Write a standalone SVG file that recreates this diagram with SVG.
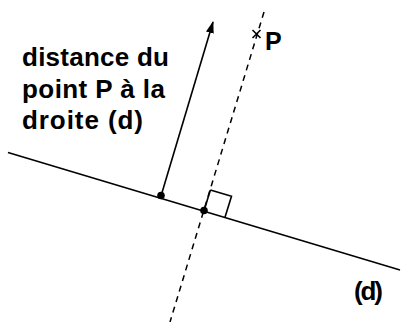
<svg xmlns="http://www.w3.org/2000/svg" width="402" height="322" viewBox="0 0 402 322">
<defs>
<style>
.lbl{font-family:"Liberation Sans",Arial,sans-serif;font-weight:bold;fill:#000}
.ln{stroke:#000;stroke-width:1.6;fill:none}
.dash{stroke:#000;stroke-width:1.5;fill:none;stroke-dasharray:6 5}
</style>
<marker id="ah" viewBox="0 0 12 8" refX="11" refY="4" markerWidth="12" markerHeight="8" markerUnits="userSpaceOnUse" orient="auto">
<path d="M0,0 L12,4 L0,8 Z" fill="#000"/>
</marker>
</defs>
<rect width="402" height="322" fill="#fff"/>
<g id="connectors">
<line id="droite-d" class="ln" x1="8" y1="152.5" x2="400" y2="270"/>
<line id="perpendiculaire" class="dash" x1="264" y1="12" x2="170" y2="322"/>
<line id="distance-arrow" class="ln" x1="161" y1="196" x2="213" y2="22" marker-end="url(#ah)"/>
<polyline id="angle-droit" class="ln" points="210.4,190 231.5,196.2 225,217.3"/>
<line class="ln" x1="204" y1="210.8" x2="210.4" y2="190"/>
<circle cx="161" cy="195.5" r="3.8" fill="#000"/>
<circle cx="204" cy="210.5" r="3.8" fill="#000"/>
</g>
<g id="point-P">
<path class="ln" d="M252.5,30 L260.5,38 M260.5,30 L252.5,38" stroke-width="1.3"/>
<text class="lbl" x="265" y="50" font-size="25">P</text>
</g>
<g id="label-distance">
<text class="lbl" x="22" y="66" font-size="26" textLength="147">distance du</text>
<text class="lbl" x="22" y="98" font-size="26" textLength="143">point P à la</text>
<text class="lbl" x="22" y="129" font-size="26" textLength="121">droite (d)</text>
</g>
<g id="label-d">
<text class="lbl" x="354" y="300" font-size="26" textLength="29">(d)</text>
</g>
</svg>
